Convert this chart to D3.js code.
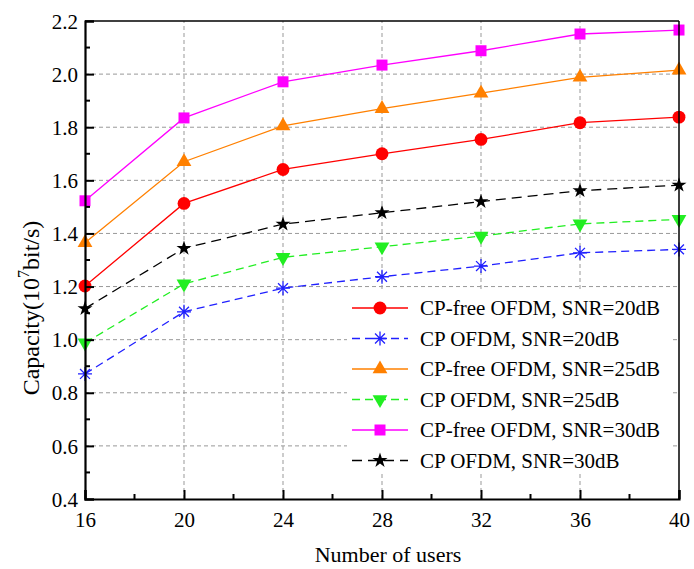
<!DOCTYPE html>
<html>
<head>
<meta charset="utf-8">
<script src="https://cdn.jsdelivr.net/npm/d3@7"></script>
<style>
  body { margin: 0; background: #fff; }
  svg text { font-family: "Liberation Serif", "Times New Roman", serif; fill: #000; }
</style>
</head>
<body>
<svg id="chart" width="694" height="569"></svg>
<script>
// Chart data
const users = [16, 20, 24, 28, 32, 36, 40];
const cpFree20 = [1.202, 1.513, 1.641, 1.700, 1.754, 1.817, 1.838];
const cp20 = [0.871, 1.105, 1.194, 1.237, 1.277, 1.327, 1.340];
const cpFree25 = [1.365, 1.670, 1.805, 1.870, 1.928, 1.988, 2.015];
const cp25 = [0.988, 1.210, 1.310, 1.350, 1.390, 1.436, 1.453];
const cpFree30 = [1.523, 1.835, 1.971, 2.034, 2.088, 2.151, 2.166];
const cp30 = [1.117, 1.344, 1.435, 1.478, 1.520, 1.561, 1.582];

const xTicks = [16, 20, 24, 28, 32, 36, 40];
const yTicks = [0.4, 0.6, 0.8, 1.0, 1.2, 1.4, 1.6, 1.8, 2.0, 2.2];

const seriesNames = [
  "CP-free OFDM, SNR=20dB", "CP OFDM, SNR=20dB",
  "CP-free OFDM, SNR=25dB", "CP OFDM, SNR=25dB",
  "CP-free OFDM, SNR=30dB", "CP OFDM, SNR=30dB"
];
const seriesValues = [cpFree20, cp20, cpFree25, cp25, cpFree30, cp30];

// styling per series
const styles = [
  { color: "#ff0000", dash: null, marker: "circle" },
  { color: "#2020ff", dash: "8,5", marker: "asterisk" },
  { color: "#ff8000", dash: null, marker: "triangle" },
  { color: "#22ee22", dash: "8,5", marker: "triangleDown" },
  { color: "#ff00ff", dash: null, marker: "square" },
  { color: "#000000", dash: "10,6", marker: "star" }
];

const margin = { left: 85, right: 15, top: 21, bottom: 70 };
const width = 694, height = 569;

const svg = d3.select("#chart");

const x = d3.scaleLinear().domain([16, 40]).range([margin.left, width - margin.right]);
const y = d3.scaleLinear().domain([0.4, 2.2]).range([height - margin.bottom, margin.top]);

// grid
const grid = svg.append("g").attr("class", "grid");
grid.selectAll("line.h").data(yTicks.slice(1, -1)).enter().append("line")
  .attr("x1", x(16)).attr("x2", x(40))
  .attr("y1", d => y(d)).attr("y2", d => y(d))
  .attr("stroke", "#999").attr("stroke-width", 1).attr("stroke-dasharray", "4,3");
grid.selectAll("line.v").data(xTicks.slice(1, -1)).enter().append("line")
  .attr("y1", y(0.4)).attr("y2", y(2.2))
  .attr("x1", d => x(d)).attr("x2", d => x(d))
  .attr("stroke", "#999").attr("stroke-width", 1).attr("stroke-dasharray", "4,3");

// markers
function markerPath(type) {
  switch (type) {
    case "circle": return d3.symbol(d3.symbolCircle, 130)();
    case "square": return d3.symbol(d3.symbolSquare, 121)();
    case "triangle": return d3.symbol(d3.symbolTriangle, 95)();
    case "triangleDown": return d3.symbol(d3.symbolTriangle, 95)();
    case "star": return d3.symbol(d3.symbolStar, 70)();
    case "asterisk": {
      const r = 7, p = d3.path();
      for (let a = 0; a < 4; a++) {
        const ang = a * Math.PI / 4;
        p.moveTo(-r * Math.cos(ang), -r * Math.sin(ang));
        p.lineTo(r * Math.cos(ang), r * Math.sin(ang));
      }
      return p.toString();
    }
  }
}

function drawMarker(g, type, color, cx, cy) {
  const m = g.append("path")
    .attr("d", markerPath(type))
    .attr("transform", `translate(${cx},${cy})` + (type === "triangleDown" ? " rotate(180)" : ""));
  if (type === "asterisk") {
    m.attr("fill", "none").attr("stroke", color).attr("stroke-width", 1.3);
  } else {
    m.attr("fill", color).attr("stroke", "none");
  }
}

const line = d3.line().x((d, i) => x(users[i])).y(d => y(d));

// series
seriesValues.forEach((vals, s) => {
  const st = styles[s];
  const g = svg.append("g");
  g.append("path").datum(vals)
    .attr("d", line)
    .attr("fill", "none")
    .attr("stroke", st.color)
    .attr("stroke-width", 1.3)
    .attr("stroke-dasharray", st.dash);
  vals.forEach((v, i) => drawMarker(g, st.marker, st.color, x(users[i]), y(v)));
});

// frame
svg.append("line").attr("x1", x(16)).attr("x2", x(40)).attr("y1", y(2.2)).attr("y2", y(2.2))
  .attr("stroke", "#000").attr("stroke-width", 1.5);
svg.append("line").attr("x1", x(40)).attr("x2", x(40)).attr("y1", y(0.4)).attr("y2", y(2.2))
  .attr("stroke", "#000").attr("stroke-width", 1.5);

// axes
const xAxis = d3.axisBottom(x).tickValues(xTicks).tickSize(-9).tickFormat(d3.format("d"));
const yAxis = d3.axisLeft(y).tickValues(yTicks).tickSize(-9).tickFormat(d3.format(".1f"));

const gx = svg.append("g").attr("transform", `translate(0,${y(0.4)})`).call(xAxis);
const gy = svg.append("g").attr("transform", `translate(${x(16)},0)`).call(yAxis);

[gx, gy].forEach(g => {
  g.select(".domain").attr("stroke", "#000").attr("stroke-width", 2.2);
  g.selectAll(".tick line").attr("stroke", "#000").attr("stroke-width", 2);
  g.selectAll(".tick text").attr("font-size", 21).attr("font-family", "Liberation Serif");
});
gx.selectAll(".tick text").attr("y", 13).attr("dy", "0.71em");
gy.selectAll(".tick text").attr("x", -7).attr("dy", "0.34em");

// minor ticks
const xMinor = xTicks.slice(0, -1).map(d => d + 2);
const yMinor = yTicks.slice(0, -1).map(d => d + 0.1);
svg.append("g").selectAll("line").data(xMinor).enter().append("line")
  .attr("x1", d => x(d)).attr("x2", d => x(d))
  .attr("y1", y(0.4)).attr("y2", y(0.4) - 5)
  .attr("stroke", "#000").attr("stroke-width", 2);
svg.append("g").selectAll("line").data(yMinor).enter().append("line")
  .attr("y1", d => y(d)).attr("y2", d => y(d))
  .attr("x1", x(16)).attr("x2", x(16) + 5)
  .attr("stroke", "#000").attr("stroke-width", 2);

// axis titles
svg.append("text")
  .attr("x", 388).attr("y", 562)
  .attr("text-anchor", "middle").attr("font-size", 22)
  .text("Number of users");

const yt = svg.append("text")
  .attr("transform", "translate(39,308) rotate(-90)")
  .attr("text-anchor", "middle").attr("font-size", 24);
yt.append("tspan").text("Capacity(10");
yt.append("tspan").attr("dy", -10).attr("font-size", 16).text("7");
yt.append("tspan").attr("dy", 10).text("bit/s)");

// legend
const legend = svg.append("g");
legend.append("rect")
  .attr("x", 347).attr("y", 292).attr("width", 324).attr("height", 181)
  .attr("fill", "#fff");
seriesNames.forEach((name, i) => {
  const st = styles[i];
  const ly = 308 + i * 30.5;
  legend.append("line")
    .attr("x1", 352).attr("x2", 408).attr("y1", ly).attr("y2", ly)
    .attr("stroke", st.color).attr("stroke-width", 1.3)
    .attr("stroke-dasharray", st.dash);
  drawMarker(legend, st.marker, st.color, 380, ly);
  legend.append("text")
    .attr("x", 420).attr("y", ly + 7)
    .attr("font-size", 21)
    .text(name);
});
</script>
</body>
</html>
